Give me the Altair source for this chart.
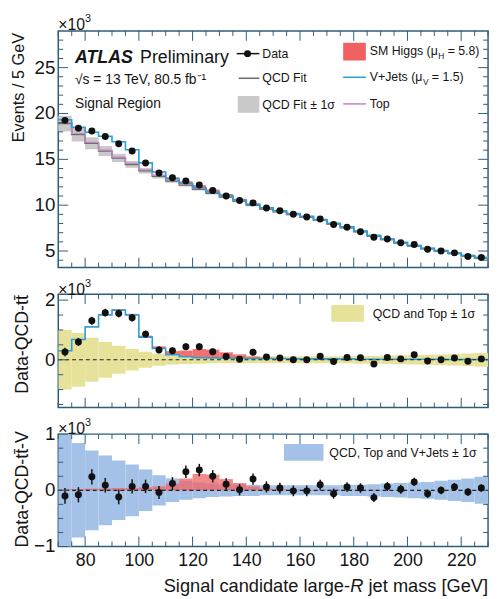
import altair as alt
import pandas as pd

FONT = "Liberation Sans"
TXT = "#151515"
AX = "#2f5d78"

# ---------------- data (event counts in units of 10^3) ----------------
bin_low = list(range(70, 230, 5))  # bin lower edges [GeV], 5 GeV bins
x_major = [80, 100, 120, 140, 160, 180, 200, 220]
x_minor = [70, 75, 85, 90, 95, 105, 110, 115, 125, 130, 135, 145, 150, 155,
           165, 170, 175, 185, 190, 195, 205, 210, 215, 225, 230]

data_events = [19.25, 18.4, 18.1, 17.5, 16.7, 15.9, 14.6, 13.5, 13.0, 12.65,
               12.2, 11.6, 11.0, 10.5, 10.25, 9.7, 9.4, 9.0, 8.7, 8.5,
               7.9, 7.6, 7.1, 6.5, 6.3, 5.9, 5.7, 5.2, 5.0, 4.8,
               4.4, 4.3]
qcd_fit = [18.9, 17.7, 16.75, 15.9, 15.15, 14.45, 13.75, 13.15, 12.65, 12.2,
           11.75, 11.3, 10.9, 10.45, 10.0, 9.6, 9.3, 9.0, 8.7, 8.35,
           7.95, 7.55, 7.1, 6.65, 6.25, 5.88, 5.55, 5.25, 5.0, 4.74,
           4.47, 4.25]
qcd_fit_err = [0.85, 0.75, 0.65, 0.55, 0.45, 0.37, 0.3, 0.24, 0.2, 0.17,
               0.15, 0.14, 0.13, 0.12, 0.12, 0.11, 0.11, 0.1, 0.1, 0.1,
               0.1, 0.1, 0.1, 0.1, 0.11, 0.11, 0.12, 0.12, 0.13, 0.14,
               0.15, 0.16]
top_bkg = [0.12, 0.12, 0.11, 0.11, 0.10, 0.10, 0.10, 0.09, 0.09, 0.09,
           0.08, 0.08, 0.08, 0.07, 0.07, 0.07, 0.06, 0.06, 0.06, 0.05,
           0.05, 0.05, 0.05, 0.04, 0.04, 0.04, 0.04, 0.03, 0.03, 0.03,
           0.03, 0.03]
vjets = [0.30, 0.68, 1.10, 1.50, 1.66, 1.50, 0.76, 0.38, 0.17, 0.10,
         0.07, 0.06, 0.05, 0.05, 0.04, 0.04, 0.04, 0.03, 0.03, 0.03,
         0.03, 0.03, 0.02, 0.02, 0.02, 0.02, 0.02, 0.02, 0.02, 0.01,
         0.01, 0.01]
higgs = [0.02, 0.02, 0.03, 0.03, 0.04, 0.04, 0.05, 0.07, 0.12, 0.21,
         0.29, 0.28, 0.20, 0.13, 0.07, 0.03, 0.02, 0.01, 0.01, 0.01,
         0.01, 0.01, 0.01, 0.01, 0.0, 0.0, 0.0, 0.0, 0.0, 0.0,
         0.0, 0.0]
resid_qcd_tt = [0.26, 0.6, 1.31, 1.58, 1.55, 1.41, 0.86, 0.33, 0.3, 0.44,
                0.44, 0.27, 0.11, 0.02, 0.25, 0.09, 0.06, 0.0, 0.0, 0.12,
                -0.06, 0.08, 0.07, -0.14, 0.08, 0.03, 0.17, -0.04, 0.0, 0.06,
                -0.05, 0.03]
band_qcd_top = [1.0, 0.9, 0.74, 0.6, 0.47, 0.36, 0.27, 0.2, 0.16, 0.14,
                0.13, 0.12, 0.12, 0.12, 0.12, 0.12, 0.12, 0.12, 0.12, 0.12,
                0.12, 0.12, 0.13, 0.13, 0.14, 0.15, 0.16, 0.17, 0.18, 0.19,
                0.21, 0.23]
resid_qcd_tt_v = [-0.10, -0.08, 0.24, 0.09, -0.12, 0.07, 0.07, -0.04, 0.12, 0.33,
                  0.36, 0.25, 0.11, 0.01, 0.20, 0.06, 0.04, -0.01, -0.01, 0.10,
                  -0.06, 0.06, 0.04, -0.13, 0.07, 0.02, 0.15, -0.06, 0.0, 0.06,
                  -0.03, 0.04]
band_qcd_top_v = [1.05, 0.84, 0.71, 0.62, 0.53, 0.46, 0.37, 0.27, 0.21, 0.17,
                  0.14, 0.12, 0.11, 0.10, 0.10, 0.09, 0.09, 0.09, 0.09, 0.09,
                  0.09, 0.10, 0.10, 0.11, 0.12, 0.13, 0.14, 0.15, 0.17, 0.19,
                  0.21, 0.24]
stat_err = [0.14, 0.135, 0.135, 0.13, 0.13, 0.125, 0.12, 0.115, 0.115, 0.11,
            0.11, 0.11, 0.105, 0.10, 0.10, 0.10, 0.095, 0.095, 0.095, 0.09,
            0.09, 0.085, 0.085, 0.08, 0.08, 0.08, 0.075, 0.075, 0.07, 0.07,
            0.065, 0.065]

top_y_major = [5, 10, 15, 20, 25]
top_y_labels = ["5", "10", "15", "20", "25"]
top_y_minor = [4, 6, 7, 8, 9, 11, 12, 13, 14, 16, 17, 18, 19, 21, 22, 23, 24, 26, 27, 28]
mid_y_major = [0, 2]
mid_y_labels = ["0", "2"]
mid_y_minor = [-1.5, -1.0, -0.5, 0.5, 1.0, 1.5]
bot_y_major = [-1, 0, 1]
bot_y_labels = ["−1", "0", "1"]
bot_y_minor = [-0.75, -0.5, -0.25, 0.25, 0.5, 0.75]

# ---------------- tables ----------------
n = len(bin_low)
df = pd.DataFrame({
    "lo": bin_low,
    "hi": [b + 5 for b in bin_low],
    "c": [b + 2.5 for b in bin_low],
    "data": data_events,
    "qlo": [qcd_fit[i] - qcd_fit_err[i] for i in range(n)],
    "qhi": [qcd_fit[i] + qcd_fit_err[i] for i in range(n)],
    "stack": [qcd_fit[i] + top_bkg[i] + vjets[i] for i in range(n)],
    "stackh": [qcd_fit[i] + top_bkg[i] + vjets[i] + higgs[i] for i in range(n)],
    "higgs": higgs,
    "zero": [0.0] * n,
    "vj": vjets,
    "vjh": [vjets[i] + higgs[i] for i in range(n)],
    "r1": resid_qcd_tt,
    "r1lo": [resid_qcd_tt[i] - stat_err[i] for i in range(n)],
    "r1hi": [resid_qcd_tt[i] + stat_err[i] for i in range(n)],
    "b1lo": [-v for v in band_qcd_top],
    "b1hi": band_qcd_top,
    "r2": resid_qcd_tt_v,
    "r2lo": [resid_qcd_tt_v[i] - stat_err[i] for i in range(n)],
    "r2hi": [resid_qcd_tt_v[i] + stat_err[i] for i in range(n)],
    "b2lo": [-v for v in band_qcd_top_v],
    "b2hi": band_qcd_top_v,
})
df_h = df[df["higgs"] > 0.005].reset_index(drop=True)
df_zero = pd.DataFrame({"z": [0.0]})


def step_df(vals):
    return pd.DataFrame({"x": bin_low + [bin_low[-1] + 5], "y": list(vals) + [vals[-1]]})


W = 436
H1, H2, H3 = 240, 115, 114
xs = alt.Scale(domain=[70, 230], nice=False, zero=False)
ys1 = alt.Scale(domain=[3.2, 29], nice=False, zero=False)
ys2 = alt.Scale(domain=[-1.6, 2.2], nice=False, zero=False)
ys3 = alt.Scale(domain=[-1, 1], nice=False, zero=False)


def one():
    return pd.DataFrame({"k": [0]})


def text(s, x, y, size=12.5, align="left", **kw):
    return alt.Chart(one()).mark_text(
        text=s, align=align, baseline="middle", fontSize=size, font=FONT, color=TXT, **kw
    ).encode(x=alt.value(x), y=alt.value(y))


def hline(x1, x2, y, color, width=1.6):
    return alt.Chart(one()).mark_rule(color=color, strokeWidth=width).encode(
        x=alt.value(x1), x2=alt.value(x2), y=alt.value(y))


def box(x1, x2, y1, y2, color, opacity=1.0):
    return alt.Chart(one()).mark_rect(color=color, opacity=opacity).encode(
        x=alt.value(x1), x2=alt.value(x2), y=alt.value(y1), y2=alt.value(y2))


xaxis_hidden = alt.Axis(values=x_major, labels=False, ticks=False, domain=False, grid=False, title=None)
xaxis_labels = alt.Axis(values=x_major, ticks=False, domain=False, grid=False, title=None,
                        labelFontSize=18, labelPadding=5, labelFont=FONT, labelColor=TXT,
                        labelFlush=False, labelOverlap=False)


class Panel:
    def __init__(self, ys, xax):
        self.ys, self.xax = ys, xax

    def X(self, f):
        return alt.X(f, scale=xs, axis=self.xax)

    def Y(self, f):
        return alt.Y(f, scale=self.ys, axis=None)


def ticks(p, H, ymaj, ymin, ylabels, Lmaj=10, Lmin=5):
    out = []
    for vals, L in [(x_major, Lmaj), (x_minor, Lmin)]:
        d = pd.DataFrame({"v": vals})
        out.append(alt.Chart(d).mark_rule(color=AX, strokeWidth=1).encode(
            x=p.X("v:Q"), y=alt.value(H), y2=alt.value(H - L)))
        out.append(alt.Chart(d).mark_rule(color=AX, strokeWidth=1).encode(
            x=p.X("v:Q"), y=alt.value(0), y2=alt.value(L)))
    for vals, L in [(ymaj, Lmaj), (ymin, Lmin)]:
        d = pd.DataFrame({"v": vals})
        out.append(alt.Chart(d).mark_rule(color=AX, strokeWidth=1).encode(
            y=p.Y("v:Q"), x=alt.value(0), x2=alt.value(L)))
        out.append(alt.Chart(d).mark_rule(color=AX, strokeWidth=1).encode(
            y=p.Y("v:Q"), x=alt.value(W - L), x2=alt.value(W)))
    # y tick labels
    d = pd.DataFrame({"v": ymaj, "lab": ylabels})
    out.append(alt.Chart(d).mark_text(align="right", baseline="middle", fontSize=19,
                                      font=FONT, color=TXT).encode(
        y=p.Y("v:Q"), x=alt.value(-3), text="lab:N"))
    return out


def zero_line(p):
    return alt.Chart(df_zero).mark_rule(color="#222222", strokeWidth=1.2, strokeDash=[4, 3]).encode(
        y=p.Y("z:Q"), x=alt.value(0), x2=alt.value(W))


QCD_COL = "#6f6f6f"
V_COL = "#2a9fd8"
TOP_COL = "#cc88cc"
H_COL = "#f06262"
GRAY_BAND = "#c9c9c9"
YELLOW = "#e6e29a"
BLUE_BAND = "#a4c2e8"

# ---------------- top panel ----------------
p1 = Panel(ys1, xaxis_hidden)
top_layers = [
    alt.Chart(df).mark_rect(color=GRAY_BAND).encode(
        x=p1.X("lo:Q"), x2="hi:Q", y=p1.Y("qlo:Q"), y2="qhi:Q"),
    alt.Chart(df_h).mark_rect(color=H_COL, opacity=0.9).encode(
        x=p1.X("lo:Q"), x2="hi:Q", y=p1.Y("stack:Q"), y2="stackh:Q"),
    alt.Chart(step_df(qcd_fit)).mark_line(interpolate="step-after", color=QCD_COL, strokeWidth=1.6).encode(
        x=p1.X("x:Q"), y=p1.Y("y:Q")),
    alt.Chart(step_df([qcd_fit[i] + top_bkg[i] for i in range(n)])).mark_line(
        interpolate="step-after", color=TOP_COL, strokeWidth=1.2).encode(
        x=p1.X("x:Q"), y=p1.Y("y:Q")),
    alt.Chart(step_df(list(df["stack"]))).mark_line(
        interpolate="step-after", color=V_COL, strokeWidth=1.6).encode(
        x=p1.X("x:Q"), y=p1.Y("y:Q")),
] + ticks(p1, H1, top_y_major, top_y_minor, top_y_labels) + [
    alt.Chart(df).mark_circle(size=50, color="#111111", opacity=1).encode(
        x=p1.X("c:Q"), y=p1.Y("data:Q")),
    # y title and x10^3
    text("Events / 5 GeV", -40, 2, size=16.5, align="right", angle=270),
    text("×10", 0, -6, size=16),
    text("3", 27, -12, size=11),
    # ATLAS label
    text("ATLAS", 17, 27, size=18, fontStyle="italic", fontWeight="bold"),
    text("Preliminary", 83, 27, size=18),
    text("√s = 13 TeV, 80.5 fb⁻¹", 17, 50, size=14),
    text("Signal Region", 17, 74, size=14),
    # legend column 1
    hline(181, 204, 23, "#111111", 1.5),
    alt.Chart(one()).mark_circle(size=50, color="#111111", opacity=1).encode(
        x=alt.value(192), y=alt.value(23)),
    text("Data", 207, 23),
    hline(183, 204, 48, QCD_COL, 1.6),
    text("QCD Fit", 207, 48),
    box(182, 204, 66, 83, GRAY_BAND),
    text("QCD Fit ± 1σ", 207, 75),
    # legend column 2
    box(289, 312, 12, 30, H_COL),
    text("SM Higgs (μ", 316, 20),
    text("H", 385.5, 25, size=8.5),
    text("= 5.8)", 395, 20),
    hline(289, 312, 47, V_COL, 1.6),
    text("V+Jets (μ", 316, 47),
    text("V", 370, 52, size=8.5),
    text("= 1.5)", 379, 47),
    hline(289, 312, 74, TOP_COL, 1.6),
    text("Top", 316, 74),
]
top = alt.layer(*top_layers).properties(width=W, height=H1)

# ---------------- middle panel ----------------
p2 = Panel(ys2, xaxis_hidden)
mid_layers = [
    alt.Chart(df).mark_rect(color=YELLOW, clip=True).encode(
        x=p2.X("lo:Q"), x2="hi:Q", y=p2.Y("b1lo:Q"), y2="b1hi:Q"),
    alt.Chart(df_h).mark_rect(color=H_COL, opacity=0.9).encode(
        x=p2.X("lo:Q"), x2="hi:Q", y=p2.Y("vj:Q"), y2="vjh:Q"),
    alt.Chart(step_df(vjets)).mark_line(interpolate="step-after", color=V_COL, strokeWidth=1.6).encode(
        x=p2.X("x:Q"), y=p2.Y("y:Q")),
    zero_line(p2),
    alt.Chart(df).mark_rule(color="#111111", strokeWidth=1.5).encode(
        x=p2.X("c:Q"), y=p2.Y("r1lo:Q"), y2="r1hi:Q"),
] + ticks(p2, H2, mid_y_major, mid_y_minor, mid_y_labels) + [
    alt.Chart(df).mark_circle(size=50, color="#111111", opacity=1).encode(
        x=p2.X("c:Q"), y=p2.Y("r1:Q")),
    text("Data-QCD-tt̄", -36, 1, size=18, align="right", angle=270),
    text("×10", 0, -4.5, size=16),
    text("3", 27, -10, size=11),
    box(277, 310, 11, 28, YELLOW),
    text("QCD and Top ± 1σ", 319, 20),
]
mid = alt.layer(*mid_layers).properties(width=W, height=H2)

# ---------------- bottom panel ----------------
p3 = Panel(ys3, xaxis_labels)
bot_layers = [
    alt.Chart(df).mark_rect(color=BLUE_BAND, clip=True).encode(
        x=p3.X("lo:Q"), x2="hi:Q", y=p3.Y("b2lo:Q"), y2="b2hi:Q"),
    alt.Chart(df_h).mark_rect(color=H_COL, opacity=0.75).encode(
        x=p3.X("lo:Q"), x2="hi:Q", y=p3.Y("higgs:Q"), y2="zero:Q"),
    zero_line(p3),
    alt.Chart(df).mark_rule(color="#111111", strokeWidth=1.5).encode(
        x=p3.X("c:Q"), y=p3.Y("r2lo:Q"), y2="r2hi:Q"),
] + ticks(p3, H3, bot_y_major, bot_y_minor, bot_y_labels) + [
    alt.Chart(df).mark_circle(size=50, color="#111111", opacity=1).encode(
        x=p3.X("c:Q"), y=p3.Y("r2:Q")),
    text("Data-QCD-tt̄-V", -36, -3, size=18, align="right", angle=270),
    text("×10", 0, -5, size=16),
    text("3", 27, -11, size=11),
    box(229, 269, 10, 27, BLUE_BAND),
    text("QCD, Top and V+Jets ± 1σ", 275, 19),
    text("Signal candidate large-", 296, 154, size=18.5, align="right"),
    text("R", 309.6, 154, size=18.5, align="right", fontStyle="italic"),
    text("jet mass [GeV]", 436, 154, size=18.5, align="right"),
]
bot = alt.layer(*bot_layers).properties(width=W, height=H3)

chart = alt.vconcat(top, mid, bot, spacing=27, bounds="flush").properties(
    padding={"left": 2, "top": 0, "right": 0, "bottom": 0}
).configure_view(stroke=AX, strokeWidth=1.5)

chart.save("out.html", embed_options={"renderer": "svg", "actions": False})
